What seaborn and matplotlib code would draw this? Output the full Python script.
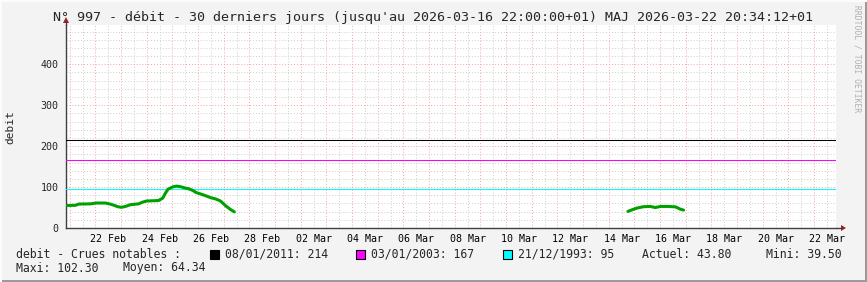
import numpy as np
import pandas as pd
import matplotlib
matplotlib.use("Agg")
import matplotlib.pyplot as plt
import matplotlib.dates as mdates
from matplotlib.ticker import MultipleLocator, FuncFormatter, NullFormatter
from matplotlib.patches import Rectangle
import seaborn as sns

# ---------------- data ----------------
seg1_times = ["2026-02-20 21:00", "2026-02-21 05:30", "2026-02-21 08:30", "2026-02-21 19:30",
              "2026-02-22 00:30", "2026-02-22 09:30", "2026-02-22 14:30", "2026-02-22 18:00",
              "2026-02-22 21:00", "2026-02-23 00:30", "2026-02-23 04:30", "2026-02-23 09:00",
              "2026-02-23 16:30", "2026-02-23 20:00", "2026-02-24 00:00", "2026-02-24 11:00",
              "2026-02-24 15:00", "2026-02-24 17:30", "2026-02-24 20:00", "2026-02-25 00:30",
              "2026-02-25 04:00", "2026-02-25 07:30", "2026-02-25 11:30", "2026-02-25 15:00",
              "2026-02-25 19:00", "2026-02-25 22:00", "2026-02-26 02:30", "2026-02-26 07:00",
              "2026-02-26 12:00", "2026-02-26 16:30", "2026-02-26 21:00", "2026-02-27 02:00",
              "2026-02-27 06:30", "2026-02-27 10:00"]
seg1_values = [55, 55.5, 58.5, 59, 61, 61, 58, 55, 52, 50.5, 53, 57, 59, 63, 66, 67,
               73, 85, 95, 100.5, 102.3, 101, 98, 96, 92, 87, 83, 79, 74, 71, 66, 54, 45, 39.5]

seg2_times = ["2026-03-14 18:00", "2026-03-14 22:00", "2026-03-15 02:30", "2026-03-15 08:30",
              "2026-03-15 15:00", "2026-03-15 19:30", "2026-03-16 00:30", "2026-03-16 08:00",
              "2026-03-16 14:30", "2026-03-16 19:00", "2026-03-16 22:00"]
seg2_values = [40.5, 44.6, 48.8, 52, 52.7, 50, 52.7, 52.7, 51.6, 46, 43.8]

crue_dates = ["08/01/2011", "03/01/2003", "21/12/1993"]
crue_values = [214, 167, 95]
crue_colors = ["#000000", "#FF00FF", "#00FFFF"]

stat_labels = ["Actuel", "Mini", "Maxi", "Moyen"]
stat_values = [43.80, 39.50, 102.30, 64.34]

title = "N° 997 - débit - 30 derniers jours (jusqu'au 2026-03-16 22:00:00+01) MAJ 2026-03-22 20:34:12+01"
x_start = pd.Timestamp("2026-02-20 20:34:12")
x_end = pd.Timestamp("2026-03-22 20:34:12")

df = pd.DataFrame({
    "time": pd.to_datetime(seg1_times + seg2_times),
    "debit": seg1_values + seg2_values,
    "seg": [1] * len(seg1_times) + [2] * len(seg2_times),
})

# ---------------- style ----------------
sns.set_style("white")
plt.rcParams["font.family"] = ["DejaVu Sans Mono"]

W, H = 867, 282
BG = "#F3F3F3"
MONO = "DejaVu Sans Mono"

fig = plt.figure(figsize=(W / 100, H / 100), dpi=100, facecolor=BG)

def fx(px):
    return px / W

def fy(py):
    return 1 - py / H

ax_l, ax_r, ax_b, ax_t = 66, 836, 228, 25
ax = fig.add_axes([fx(ax_l), fy(ax_b), (ax_r - ax_l) / W, (ax_b - ax_t) / H])
ax.set_facecolor("white")

# reference lines
for v, c in zip(crue_values, crue_colors):
    ax.axhline(v, color=c, lw=0.75, zorder=3)

sns.lineplot(data=df, x="time", y="debit", units="seg", estimator=None,
             color="#00A000", lw=2.2, ax=ax, legend=False, zorder=4)

ax.set_xlim(x_start, x_end)
ax.set_ylim(0, 496)

# grid / ticks
ax.xaxis.set_major_locator(mdates.DayLocator())
ax.xaxis.set_minor_locator(mdates.HourLocator(byhour=[12]))
ax.xaxis.set_major_formatter(NullFormatter())

def minor_fmt(x, pos):
    d = mdates.num2date(x)
    return d.strftime("%d %b") if d.day % 2 == 0 else ""

ax.xaxis.set_minor_formatter(FuncFormatter(minor_fmt))
ax.yaxis.set_major_locator(MultipleLocator(100))
ax.yaxis.set_minor_locator(MultipleLocator(20))

ax.grid(which="major", color="#F2A6A6", lw=0.7, ls=(0, (1, 2)), zorder=1)
ax.grid(which="minor", color="#CDCDCD", lw=0.7, ls=(0, (1, 2)), zorder=0)

ax.tick_params(axis="x", which="major", length=3, direction="inout", color="#E06060",
               labelbottom=False)
ax.tick_params(axis="x", which="minor", length=3, direction="inout", color="#BBBBBB",
               labelsize=7.2, pad=3, labelcolor="#000000")
ax.tick_params(axis="y", which="major", length=3, direction="inout", color="#E06060",
               labelsize=7.2, pad=4)
ax.tick_params(axis="y", which="minor", length=3, direction="inout", color="#BBBBBB")
for lab in ax.get_xticklabels(minor=True) + ax.get_yticklabels():
    lab.set_fontfamily(MONO)

ax.set_xlabel("")
ax.set_ylabel("")
for s in ["top", "right"]:
    ax.spines[s].set_visible(False)
for s in ["left", "bottom"]:
    ax.spines[s].set_color("#404040")
    ax.spines[s].set_linewidth(1.0)

# axis extensions and arrows
fig.add_artist(plt.Line2D([fx(ax_r), fx(842)], [fy(ax_b), fy(ax_b)], color="#404040", lw=1.0))
fig.add_artist(plt.Line2D([fx(ax_l), fx(ax_l)], [fy(ax_t), fy(20)], color="#404040", lw=1.0))
fig.add_artist(plt.Polygon([[fx(841), fy(225)], [fx(846), fy(228)], [fx(841), fy(231)]],
                           closed=True, color="#A02020", lw=0))
fig.add_artist(plt.Polygon([[fx(63), fy(23)], [fx(66), fy(17)], [fx(69), fy(23)]],
                           closed=True, color="#A02020", lw=0))

# texts
fig.text(fx(433), fy(18), title, ha="center", va="center", fontsize=9.6, family=MONO)
fig.text(fx(10), fy(127), "debit", ha="center", va="center", rotation=90,
         fontsize=8.0, family=MONO)
fig.text(fx(857), fy(5), "RRDTOOL / TOBI OETIKER", ha="center", va="top", rotation=270,
         fontsize=5.8, family=MONO, color="#B0B0B0")

leg_y1, leg_y2 = 254, 268
fs = 8.3
fig.text(fx(16), fy(leg_y1), "debit - Crues notables :", ha="left", va="center",
         fontsize=fs, family=MONO)
sq_x = [210, 356, 503]
tx_x = [225, 371, 517.5]
for sx, tx, d, v, c in zip(sq_x, tx_x, crue_dates, crue_values, crue_colors):
    fig.add_artist(Rectangle((fx(sx), fy(leg_y1 + 4.5)), 9 / W, 9 / H, facecolor=c,
                             edgecolor="#000000", lw=0.8))
    fig.text(fx(tx), fy(leg_y1), f"{d}: {v}", ha="left", va="center", fontsize=fs, family=MONO)

fig.text(fx(642), fy(leg_y1), f"{stat_labels[0]}: {stat_values[0]:.2f}", ha="left",
         va="center", fontsize=fs, family=MONO)
fig.text(fx(766.5), fy(leg_y1), f"{stat_labels[1]}: {stat_values[1]:.2f}", ha="left",
         va="center", fontsize=fs, family=MONO)
fig.text(fx(16), fy(leg_y2), f"{stat_labels[2]}: {stat_values[2]:.2f}", ha="left",
         va="center", fontsize=fs, family=MONO)
fig.text(fx(123), fy(leg_y2), f"{stat_labels[3]}: {stat_values[3]:.2f}", ha="left",
         va="center", fontsize=fs, family=MONO)

# 3D canvas border
fig.add_artist(Rectangle((0, 0), 1, 2 / H, facecolor="#9A9A9A", lw=0))
fig.add_artist(Rectangle((1 - 2 / W, 0), 2 / W, 1, facecolor="#9A9A9A", lw=0))
fig.add_artist(Rectangle((0, 1 - 2 / H), 1, 2 / H, facecolor="#FCFCFC", lw=0))
fig.add_artist(Rectangle((0, 0), 2 / W, 1, facecolor="#FCFCFC", lw=0))

fig.savefig("out.png", dpi=100, facecolor=BG)
